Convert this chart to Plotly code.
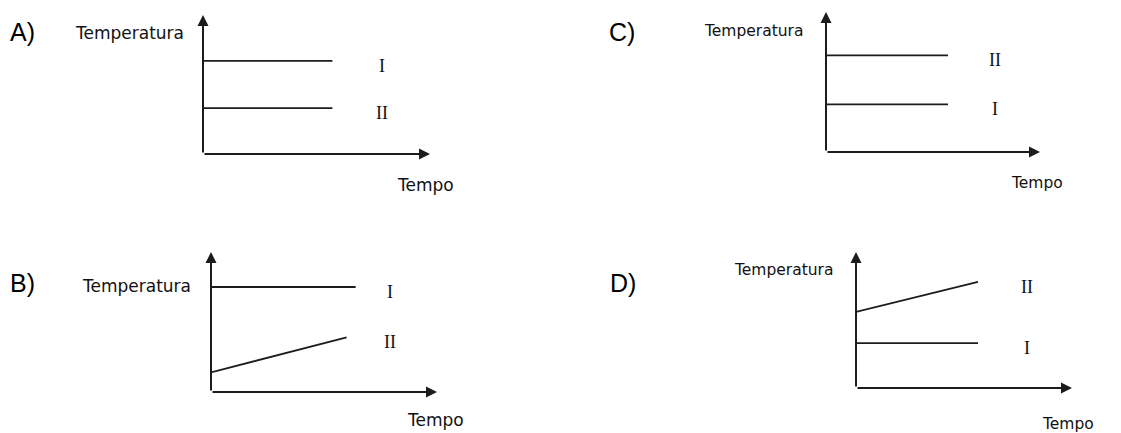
import plotly.graph_objects as go

W, H = 1121, 433

# ---- data ----
panels = ["A)", "B)", "C)", "D)"]
series_names = ["I", "II"]
time_I = [[0, 5.7], [0, 6.4], [0, 5.7], [0, 5.65]]
temp_I = [[6.7, 6.7], [7.5, 7.5], [3.4, 3.4], [3.3, 3.3]]
time_II = [[0, 5.7], [0, 6.0], [0, 5.7], [0, 5.65]]
temp_II = [[3.3, 3.3], [1.4, 3.9], [6.9, 6.9], [5.6, 7.8]]
y_title = "Temperatura"
x_title = "Tempo"

# ---- layout (pixel boxes of each small chart) ----
# (x_left, x_right, y_bottom, y_top) in pixels
boxes = [(203, 430, 154, 15), (211, 437, 392, 252), (826, 1040, 152, 12), (856, 1072, 388, 252)]
# letter, y-title, x-title positions in pixels (left x, center y)
letter_pos = [(8, 32), (8, 283), (607, 32), (608, 283)]
ytitle_pos = [(73, 33), (80, 286), (702, 31), (732, 270)]
xtitle_pos = [(395, 185), (405, 420), (1009, 183), (1040, 424)]
title_sizes = [17, 17, 15.5, 15.5]

def px(x):
    return x / W

def py(y):
    return 1 - y / H

fig = go.Figure()
annotations = []
ink = "#1c1c1c"
layout = dict(width=W, height=H, margin=dict(l=0, r=0, t=0, b=0),
              paper_bgcolor="white", plot_bgcolor="rgba(0,0,0,0)", showlegend=False)

for i, name in enumerate(panels):
    n = "" if i == 0 else str(i + 1)
    xa, ya = "x" + n, "y" + n
    xl, xr, yb, yt = boxes[i]
    layout["xaxis" + n] = dict(domain=[px(xl), px(xr)], range=[0, 10], visible=False,
                               anchor=ya, fixedrange=True)
    layout["yaxis" + n] = dict(domain=[py(yb), py(yt)], range=[0, 10], visible=False,
                               anchor=xa, fixedrange=True)
    for t, v, lab in ((time_I[i], temp_I[i], "I"), (time_II[i], temp_II[i], "II")):
        fig.add_trace(go.Scatter(x=t, y=v, mode="lines", xaxis=xa, yaxis=ya,
                                 line=dict(color=ink, width=1.8), hoverinfo="skip"))
        annotations.append(dict(x=7.9, y=v[-1], xref=xa, yref=ya, text=lab,
                                showarrow=False, yshift=-5,
                                font=dict(family="Liberation Serif", size=18, color="#111")))
    # axes with arrows
    annotations.append(dict(x=10, y=0, ax=0, ay=0, xref=xa, yref=ya, axref=xa, ayref=ya,
                            text="", showarrow=True, arrowhead=2, arrowsize=1.1, arrowwidth=2,
                            arrowcolor=ink, standoff=0))
    annotations.append(dict(x=0, y=10, ax=0, ay=0, xref=xa, yref=ya, axref=xa, ayref=ya,
                            text="", showarrow=True, arrowhead=2, arrowsize=1.1, arrowwidth=2,
                            arrowcolor=ink, standoff=0))
    lx, ly = letter_pos[i]
    annotations.append(dict(x=px(lx), y=py(ly), xref="paper", yref="paper", text=name,
                            showarrow=False, xanchor="left", yanchor="middle",
                            font=dict(family="Liberation Sans", size=25, color="black")))
    tx, ty = ytitle_pos[i]
    annotations.append(dict(x=px(tx), y=py(ty), xref="paper", yref="paper", text=y_title,
                            showarrow=False, xanchor="left", yanchor="middle",
                            font=dict(family="DejaVu Sans", size=title_sizes[i], color="#111")))
    tx, ty = xtitle_pos[i]
    annotations.append(dict(x=px(tx), y=py(ty), xref="paper", yref="paper", text=x_title,
                            showarrow=False, xanchor="left", yanchor="middle",
                            font=dict(family="DejaVu Sans", size=title_sizes[i], color="#111")))

layout["annotations"] = annotations
fig.update_layout(**layout)
fig.write_html("out.html", config={"displayModeBar": False},
               post_script="document.body.style.margin='0';")
